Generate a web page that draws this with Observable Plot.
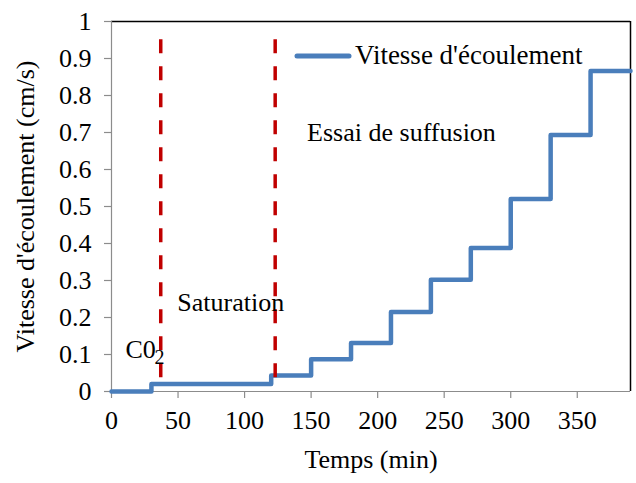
<!DOCTYPE html>
<html>
<head>
<meta charset="utf-8">
<script src="https://cdn.jsdelivr.net/npm/d3@7"></script>
<script src="https://cdn.jsdelivr.net/npm/@observablehq/plot@0.6"></script>
<style>
  html, body { margin: 0; padding: 0; background: #fff; }
  #wrap { position: relative; width: 636px; height: 483px; font-family: "Liberation Serif", "Times New Roman", serif; }
  #chart svg, #chart svg text { font-family: "Liberation Serif", "Times New Roman", serif !important; }
  #legend { position: absolute; left: 294px; top: 40px; display: flex; align-items: center; font-size: 27px; color: #000; white-space: nowrap; }
  #legend svg { display: block; margin-right: 3px; }
</style>
</head>
<body>
<div id="wrap">
  <div id="chart"></div>
  <div id="legend">
    <svg width="58" height="12"><line x1="3" y1="6" x2="55" y2="6" stroke="#4a7ebb" stroke-width="5" stroke-linecap="round"/></svg>
    <span>Vitesse d'écoulement</span>
  </div>
</div>
<script>
// Flow velocity measured at each step of the test (step function)
const temps = [0, 30, 120, 150, 180, 210, 240, 270, 300, 330, 360, 390];
const vitesse = [0, 0.02, 0.043, 0.087, 0.131, 0.215, 0.302, 0.388, 0.52, 0.693, 0.866, 0.866];

// Phase boundaries (dashed red lines)
const limitesPhases = [37, 123];

// Axis ticks
const xTicks = [0, 50, 100, 150, 200, 250, 300, 350];
const yTicks = [0, 0.1, 0.2, 0.3, 0.4, 0.5, 0.6, 0.7, 0.8, 0.9, 1];

// Phase annotations
const annotations = [
  {t: 147, v: 0.70, label: "Essai de suffusion"},
  {t: 49.5, v: 0.24, label: "Saturation"}
];

const serif = "Liberation Serif";
const serie = temps.map((t, i) => ({t, v: vitesse[i]}));
const axisGray = "#8c8c8c";

const chart = Plot.plot({
  width: 636,
  height: 483,
  marginLeft: 111,
  marginTop: 21,
  marginRight: 6,
  marginBottom: 92,
  style: {fontFamily: serif, fontSize: "26px", color: "#000", background: "#fff"},
  x: {domain: [0, 390]},
  y: {domain: [0, 1]},
  marks: [
    // frame: gray axes on left/bottom, black on top/right
    Plot.ruleY([1], {stroke: "#000", strokeWidth: 1.5}),
    Plot.ruleX([390], {stroke: "#000", strokeWidth: 1.5}),
    Plot.ruleX([0], {stroke: axisGray, strokeWidth: 1.2}),
    Plot.ruleY([0], {stroke: axisGray, strokeWidth: 1.2}),
    Plot.axisX({ticks: xTicks, tickSize: 7, tickPadding: 12, stroke: axisGray, strokeWidth: 1.2, fill: "#000", fontSize: 26, fontFamily: serif,
      label: "Temps (min)", labelAnchor: "center", labelArrow: "none", labelOffset: 76, labelDx: 10}),
    Plot.axisY({ticks: yTicks, tickSize: 7, tickPadding: 13, stroke: axisGray, strokeWidth: 1.2, fill: "#000", fontSize: 26, fontFamily: serif,
      tickFormat: d => String(d),
      label: "Vitesse d'écoulement (cm/s)", labelAnchor: "center", labelArrow: "none", labelOffset: 96, labelDy: 0}),
    // velocity curve
    Plot.line(serie, {x: "t", y: "v", curve: "step-after", stroke: "#4a7ebb", strokeWidth: 4.5, strokeLinejoin: "round"}),
    // phase boundaries
    Plot.ruleX(limitesPhases, {y1: 0.037, y2: 0.985, stroke: "#c00000", strokeWidth: 3.5, strokeDasharray: "14,13"}),
    // annotations
    Plot.text(annotations, {x: "t", y: "v", text: "label", textAnchor: "start", fontSize: 26, fontFamily: serif, fill: "#000"}),
    Plot.text(["C0"], {x: 10.5, y: 0.113, text: d => d, textAnchor: "start", fontSize: 26, fontFamily: serif, fill: "#000"}),
    Plot.text(["2"], {x: 10.5, y: 0.113, text: d => d, textAnchor: "start", dx: 29, dy: 8, fontSize: 20, fontFamily: serif, fill: "#000"})
  ]
});
document.getElementById("chart").appendChild(chart);
</script>
</body>
</html>
